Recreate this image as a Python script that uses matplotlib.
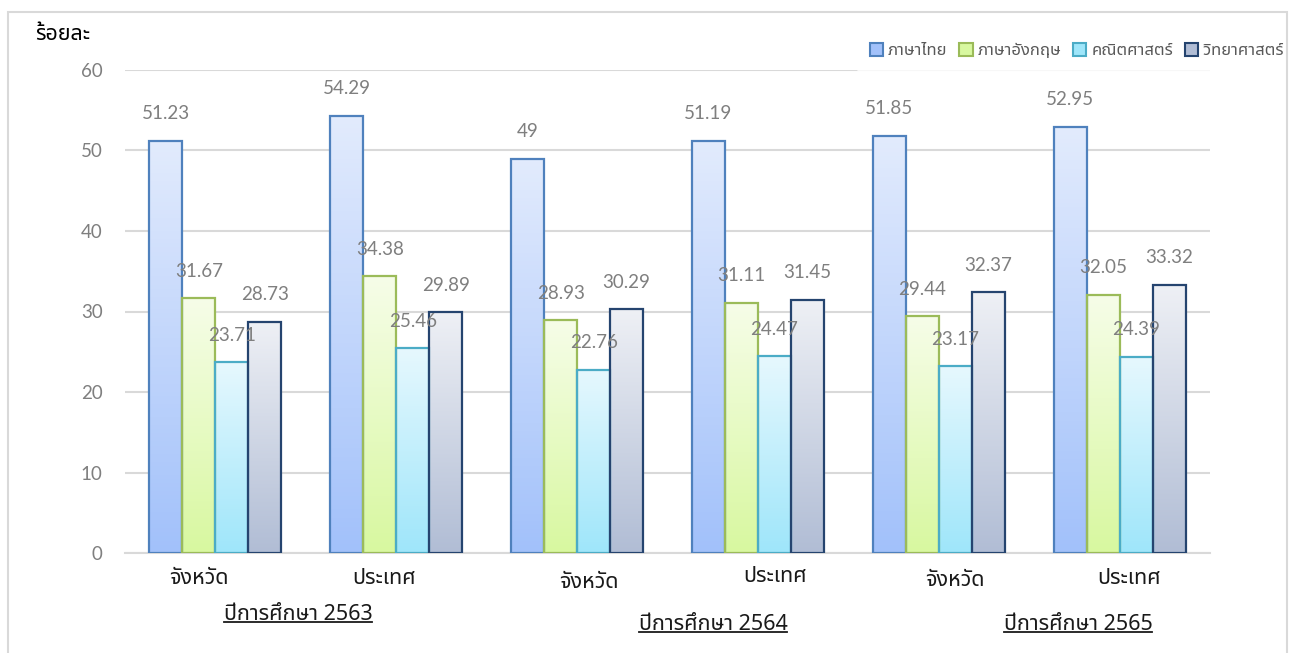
import matplotlib
matplotlib.use("Agg")
import numpy as np
import matplotlib.pyplot as plt
from matplotlib.patches import Patch, Rectangle
from matplotlib.lines import Line2D
from matplotlib.colors import LinearSegmentedColormap

THAI = ['Noto Sans Thai', 'DejaVu Sans']
NUM = ['Lato', 'DejaVu Sans']
plt.rcParams['font.family'] = THAI

# data
subjects = ['ภาษาไทย', 'ภาษาอังกฤษ', 'คณิตศาสตร์', 'วิทยาศาสตร์']
categories = ['จังหวัด', 'ประเทศ', 'จังหวัด', 'ประเทศ', 'จังหวัด', 'ประเทศ']
years = ['ปีการศึกษา 2563', 'ปีการศึกษา 2564', 'ปีการศึกษา 2565']
thai_scores = [51.23, 54.29, 49, 51.19, 51.85, 52.95]
eng_scores = [31.67, 34.38, 28.93, 31.11, 29.44, 32.05]
math_scores = [23.71, 25.46, 22.76, 24.47, 23.17, 24.39]
sci_scores = [28.73, 29.89, 30.29, 31.45, 32.37, 33.32]
yticks = [0, 10, 20, 30, 40, 50, 60]

series = [thai_scores, eng_scores, math_scores, sci_scores]
# (top colour, bottom colour, edge colour)
styles = [('#e2ebfd', '#a2c1fa', '#4f81bd'),
          ('#f6fde8', '#d8f8a0', '#9bbb59'),
          ('#e6f8fe', '#9fe6fa', '#4bacc6'),
          ('#eef0f5', '#b1bdd5', '#25446f')]

fig = plt.figure(figsize=(12.91, 6.53), dpi=100)
W, H = 1291, 653
ax = fig.add_axes([125 / W, (H - 553) / H, (1210 - 125) / W, (553 - 70) / H])

x = np.arange(len(categories))
bw = 0.1825
for k, vals in enumerate(series):
    top, bot, edge = styles[k]
    cmap = LinearSegmentedColormap.from_list('g%d' % k, [bot, top])
    bars = ax.bar(x + (k - 1.5) * bw, vals, bw, facecolor='none',
                  edgecolor=edge, linewidth=1.6, zorder=3)
    for b in bars:
        x0, h = b.get_x(), b.get_height()
        grad = np.linspace(0, 1, 100).reshape(-1, 1)
        im = ax.imshow(grad, cmap=cmap, origin='lower', aspect='auto',
                       extent=(x0, x0 + bw, 0, h), zorder=2)
        im.set_clip_path(b)
        ax.annotate('{:g}'.format(h), (x0 + bw / 2, h), xytext=(0, 27),
                    textcoords='offset pixels', ha='center', va='center',
                    fontsize=13.5, color='#7f7f7f', family=NUM, zorder=4)

ax.set_xlim(-0.5, 5.5)
ax.set_ylim(0, 60)
ax.set_yticks(yticks)
ax.set_yticklabels([str(t) for t in yticks], family=NUM, fontsize=13.5, color='#7f7f7f')
ax.tick_params(axis='y', length=0, pad=16)
ax.set_xticks([])
ax.grid(axis='y', color='#d9d9d9', linewidth=1.5, zorder=0)
ax.set_axisbelow(True)
for s in ['top', 'right', 'left']:
    ax.spines[s].set_visible(False)
ax.spines['bottom'].set_color('#d9d9d9')
ax.spines['bottom'].set_linewidth(1.5)

# category labels (placed by hand in the original)
cat_dx = [-0.09, -0.066, 0.066, 0.094, 0.089, 0.055]
cat_y = [578, 578, 582, 577, 580, 578]
for i, lab in enumerate(categories):
    fig.text((125 + (i + 0.5 + cat_dx[i]) * (1085 / 6)) / W, 1 - cat_y[i] / H, lab,
             ha='center', va='center', fontsize=15.5, color='#1a1a1a')

year_xy = [(298, 614), (713, 624), (1078, 624)]
fig.canvas.draw()
r = fig.canvas.get_renderer()
for lab, (px, py) in zip(years, year_xy):
    t = fig.text(px / W, 1 - py / H, lab, ha='center', va='center',
                 fontsize=15.5, color='#1a1a1a')
    bb = t.get_window_extent(renderer=r)
    uy = (bb.y0 + 3) / H
    fig.add_artist(Line2D([bb.x0 / W, bb.x1 / W], [uy, uy], color='#1a1a1a', lw=1.3))

fig.text(35 / W, 1 - 35 / H, 'ร้อยละ', ha='left', va='center',
         fontsize=15.5, fontweight='bold', color='black')

handles = [Patch(facecolor=st[1], edgecolor=st[2], linewidth=1.5) for st in styles]
leg = fig.legend(handles, subjects, loc='center right', ncol=4,
                 bbox_to_anchor=(1297 / W, 1 - 51 / H), frameon=True,
                 fontsize=12, handlelength=0.8, handleheight=0.8,
                 handletextpad=0.3, columnspacing=0.7, borderpad=0.8,
                 borderaxespad=0)
leg.get_frame().set_facecolor('white')
leg.get_frame().set_edgecolor('none')
for t in leg.get_texts():
    t.set_color('#595959')

fig.add_artist(Rectangle((8 / W, -0.02), (1287 - 8) / W, 1.02 - 12 / H,
                         transform=fig.transFigure, fill=False,
                         edgecolor='#d9d9d9', linewidth=1.5, zorder=10))

fig.savefig('out.png', dpi=100)
